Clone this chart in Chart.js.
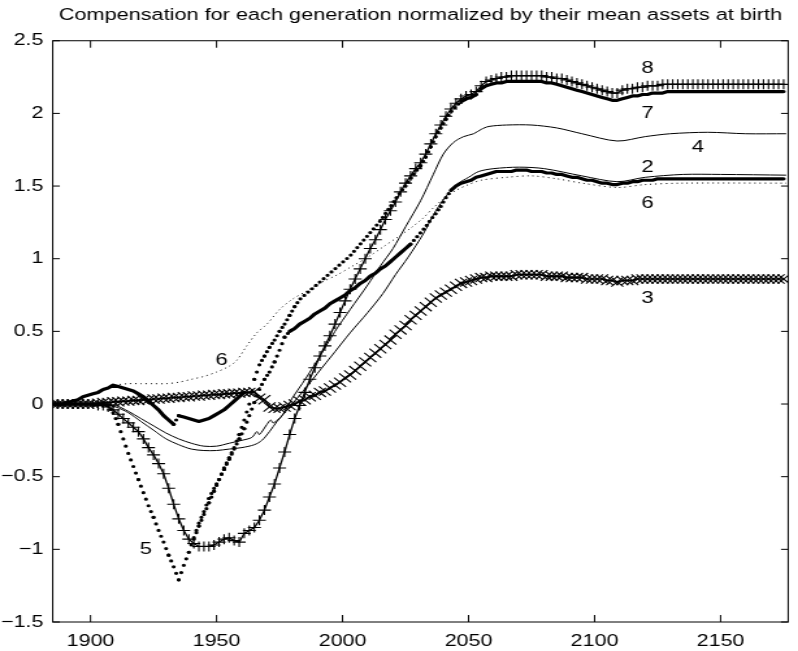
<!DOCTYPE html>
<html>
<head>
<meta charset="utf-8">
<title>Compensation for each generation</title>
<script src="https://cdn.jsdelivr.net/npm/chart.js@4.4.1/dist/chart.umd.min.js"></script>
<style>
    html, body { margin: 0; padding: 0; background: #fff; }
    /* the scanned figure is wider than tall glyphs suggest, so the whole plot is stretched sideways */
    #wrap { position: absolute; left: 0; top: 0; width: 614px; height: 651px; transform: scaleX(1.2997); transform-origin: 0 0; }
</style>
</head>
<body>
<div id="wrap"><canvas id="compChart"></canvas></div>
<script>
const titleText = 'Compensation for each generation normalized by their mean assets at birth';

const xTicks = [1900, 1950, 2000, 2050, 2100, 2150];
const yTicks = [-1.5, -1, -0.5, 0, 0.5, 1, 1.5, 2, 2.5];

// birth years of the marker series (every second generation)
const years = [
    1885, 1887, 1889, 1891, 1893, 1895, 1897, 1899, 1901, 1903,
    1905, 1907, 1909, 1911, 1913, 1915, 1917, 1919, 1921, 1923,
    1925, 1927, 1929, 1931, 1933, 1935, 1937, 1939, 1941, 1943,
    1945, 1947, 1949, 1951, 1953, 1955, 1957, 1959, 1961, 1963,
    1965, 1967, 1969, 1971, 1973, 1975, 1977, 1979, 1981, 1983,
    1985, 1987, 1989, 1991, 1993, 1995, 1997, 1999, 2001, 2003,
    2005, 2007, 2009, 2011, 2013, 2015, 2017, 2019, 2021, 2023,
    2025, 2027, 2029, 2031, 2033, 2035, 2037, 2039, 2041, 2043,
    2045, 2047, 2049, 2051, 2053, 2055, 2057, 2059, 2061, 2063,
    2065, 2067, 2069, 2071, 2073, 2075, 2077, 2079, 2081, 2083,
    2085, 2087, 2089, 2091, 2093, 2095, 2097, 2099, 2101, 2103,
    2105, 2107, 2109, 2111, 2113, 2115, 2117, 2119, 2121, 2123,
    2125, 2127, 2129, 2131, 2133, 2135, 2137, 2139, 2141, 2143,
    2145, 2147, 2149, 2151, 2153, 2155, 2157, 2159, 2161, 2163,
    2165, 2167, 2169, 2171, 2173, 2175
];

// case 8, '+' markers
const case8 = [
    0, 0, 0, 0, 0, 0, 0, 0, 0, -0.01,
    -0.01, -0.02, -0.04, -0.07, -0.10, -0.13, -0.16, -0.19, -0.24, -0.30,
    -0.35, -0.41, -0.48, -0.58, -0.69, -0.79, -0.87, -0.93, -0.96, -0.98,
    -0.98, -0.98, -0.97, -0.95, -0.93, -0.92, -0.94, -0.95, -0.89, -0.87,
    -0.85, -0.80, -0.73, -0.64, -0.55, -0.44, -0.33, -0.21, -0.10, -0.01,
    0.08, 0.17, 0.25, 0.33, 0.40, 0.47, 0.55, 0.63, 0.71, 0.79,
    0.86, 0.93, 1.00, 1.07, 1.13, 1.20, 1.27, 1.33, 1.39, 1.46,
    1.52, 1.57, 1.62, 1.66, 1.72, 1.79, 1.86, 1.92, 1.98, 2.03,
    2.07, 2.10, 2.12, 2.13, 2.15, 2.19, 2.22, 2.23, 2.24, 2.25,
    2.25, 2.26, 2.26, 2.26, 2.26, 2.26, 2.26, 2.26, 2.25, 2.25,
    2.24, 2.24, 2.23, 2.22, 2.21, 2.20, 2.19, 2.18, 2.17, 2.16,
    2.15, 2.14, 2.14, 2.16, 2.17, 2.17, 2.18, 2.18, 2.19, 2.19,
    2.19, 2.20, 2.20, 2.20, 2.20, 2.20, 2.20, 2.20, 2.20, 2.20,
    2.20, 2.20, 2.20, 2.20, 2.20, 2.20, 2.20, 2.20, 2.20, 2.20,
    2.20, 2.20, 2.20, 2.20, 2.20, 2.20
];

// case 7, heavy dots, visible from 1941 on
const case7Start = 1941;
const case7 = [
    -0.93, -0.84,
    -0.76, -0.68, -0.60, -0.52, -0.44, -0.37, -0.30, -0.21, -0.11, 0.00,
    0.17, 0.27, 0.33, 0.39, 0.44, 0.50, 0.55, 0.61, 0.67, 0.72,
    0.75, 0.78, 0.81, 0.84, 0.87, 0.90, 0.93, 0.96, 0.99, 1.02,
    1.06, 1.10, 1.14, 1.18, 1.22, 1.26, 1.31, 1.36, 1.41, 1.46,
    1.50, 1.55, 1.60, 1.64, 1.70, 1.77, 1.84, 1.90, 1.96, 2.01,
    2.05, 2.08, 2.10, 2.11, 2.13, 2.17, 2.19, 2.20, 2.21, 2.21,
    2.22, 2.22, 2.22, 2.22, 2.22, 2.22, 2.22, 2.22, 2.21, 2.21,
    2.20, 2.19, 2.18, 2.17, 2.16, 2.15, 2.14, 2.13, 2.12, 2.11,
    2.10, 2.09, 2.09, 2.10, 2.11, 2.12, 2.12, 2.13, 2.13, 2.14,
    2.14, 2.14, 2.15, 2.15, 2.15, 2.15, 2.15, 2.15, 2.15, 2.15,
    2.15, 2.15, 2.15, 2.15, 2.15, 2.15, 2.15, 2.15, 2.15, 2.15,
    2.15, 2.15, 2.15, 2.15, 2.15, 2.15
];

// case 5, heavy dots
const case5 = [
    0, 0, 0, 0, 0, 0, 0, 0, 0, 0,
    0, -0.01, -0.06, -0.14, -0.24, -0.34, -0.43, -0.52, -0.61, -0.70,
    -0.78, -0.87, -0.95, -1.04, -1.12, -1.21, -1.11, -1.02, -0.92, -0.82,
    -0.74, -0.65, -0.58, -0.52, -0.45, -0.38, -0.31, -0.24, -0.17, -0.08,
    0.01, 0.10, 0.17, 0.22, 0.29, 0.37, 0.46, 0.50, 0.52, 0.55,
    0.57, 0.59, 0.62, 0.64, 0.66, 0.69, 0.71, 0.73, 0.75, 0.78,
    0.80, 0.83, 0.85, 0.88, 0.90, 0.93, 0.95, 0.98, 1.01, 1.04,
    1.07, 1.10, 1.14, 1.18, 1.22, 1.27, 1.31, 1.36, 1.42, 1.47,
    1.50, 1.52, 1.53, 1.54, 1.56, 1.57, 1.58, 1.59, 1.60, 1.60,
    1.60, 1.60, 1.61, 1.61, 1.61, 1.60, 1.60, 1.60, 1.59, 1.59,
    1.58, 1.58, 1.57, 1.56, 1.56, 1.55, 1.54, 1.54, 1.53, 1.52,
    1.52, 1.51, 1.51, 1.52, 1.52, 1.53, 1.53, 1.54, 1.54, 1.54,
    1.55, 1.55, 1.55, 1.55, 1.55, 1.55, 1.55, 1.55, 1.55, 1.55,
    1.55, 1.55, 1.55, 1.55, 1.55, 1.55, 1.55, 1.55, 1.55, 1.55,
    1.55, 1.55, 1.55, 1.55, 1.55, 1.55
];

// heavy dots near zero for the oldest generations (ends 1961)
const case1 = [
    0, 0, 0, 0.01, 0.02, 0.03, 0.05, 0.06, 0.07, 0.08,
    0.10, 0.11, 0.13, 0.12, 0.11, 0.10, 0.09, 0.07, 0.05, 0.02,
    -0.01, -0.04, -0.08, -0.11, -0.14, -0.08, -0.09, -0.10, -0.11, -0.12,
    -0.11, -0.10, -0.08, -0.06, -0.04, -0.01, 0.02, 0.05, 0.08
];

// case 3, 'x' markers
const case3 = [
    0, 0, 0, 0, 0, 0, 0, 0, 0, 0.005,
    0.01, 0.01, 0.015, 0.015, 0.02, 0.02, 0.025, 0.025, 0.03, 0.03,
    0.035, 0.035, 0.04, 0.04, 0.045, 0.045, 0.05, 0.05, 0.055, 0.055,
    0.06, 0.06, 0.065, 0.065, 0.07, 0.07, 0.075, 0.075, 0.08, 0.08,
    0.085, 0.04, 0.03, -0.02, -0.03, -0.03, -0.02, -0.01, 0.00, 0.02,
    0.03, 0.05, 0.06, 0.08, 0.09, 0.11, 0.13, 0.15, 0.18, 0.20,
    0.23, 0.26, 0.29, 0.32, 0.35, 0.38, 0.41, 0.44, 0.48, 0.51,
    0.54, 0.58, 0.61, 0.64, 0.67, 0.70, 0.73, 0.75, 0.77, 0.79,
    0.81, 0.83, 0.84, 0.85, 0.86, 0.87, 0.87, 0.88, 0.88, 0.88,
    0.88, 0.88, 0.89, 0.89, 0.89, 0.89, 0.89, 0.89, 0.88, 0.88,
    0.88, 0.88, 0.87, 0.87, 0.87, 0.87, 0.86, 0.86, 0.86, 0.86,
    0.85, 0.85, 0.84, 0.85, 0.85, 0.85, 0.86, 0.86, 0.86, 0.86,
    0.86, 0.86, 0.86, 0.86, 0.86, 0.86, 0.86, 0.86, 0.86, 0.86,
    0.86, 0.86, 0.86, 0.86, 0.86, 0.86, 0.86, 0.86, 0.86, 0.86,
    0.86, 0.86, 0.86, 0.86, 0.86, 0.86
];

// case 4, thin solid line
const case4Years = [1885, 1905, 1910, 1915, 1920, 1925, 1930, 1935, 1940, 1945, 1950, 1955, 1960, 1964, 1966, 1967, 1970, 1971.5, 1972.5, 1976, 1980, 1984, 1990, 1997, 2003, 2010, 2015, 2020, 2025, 2031, 2036, 2040, 2044, 2048, 2052, 2055, 2058, 2065, 2075, 2085, 2095, 2109, 2120, 2130, 2145, 2160, 2176];
const case4 = [0, 0, -0.01, -0.05, -0.10, -0.15, -0.20, -0.24, -0.27, -0.29, -0.29, -0.27, -0.25, -0.23, -0.19, -0.21, -0.14, -0.11, -0.13, -0.08, 0.04, 0.14, 0.30, 0.50, 0.65, 0.82, 0.95, 1.07, 1.22, 1.40, 1.58, 1.72, 1.80, 1.84, 1.86, 1.89, 1.91, 1.92, 1.92, 1.90, 1.86, 1.81, 1.84, 1.86, 1.87, 1.86, 1.86];

// case 2, thin solid line
const case2Years = [1885, 1905, 1910, 1915, 1920, 1925, 1930, 1935, 1940, 1945, 1950, 1955, 1960, 1965, 1968, 1971, 1974, 1978, 1983, 1990, 1997, 2003, 2010, 2016, 2021, 2026, 2032, 2037, 2042, 2046, 2050, 2054, 2060, 2070, 2080, 2095, 2109, 2120, 2135, 2150, 2176];
const case2 = [0, 0, -0.02, -0.06, -0.12, -0.18, -0.24, -0.28, -0.31, -0.32, -0.32, -0.31, -0.30, -0.28, -0.25, -0.19, -0.12, -0.04, 0.06, 0.21, 0.36, 0.49, 0.63, 0.76, 0.89, 1.01, 1.17, 1.33, 1.45, 1.52, 1.56, 1.60, 1.62, 1.63, 1.62, 1.57, 1.53, 1.56, 1.58, 1.58, 1.575];

// case 6, thin dotted line
const case6Years = [1885, 1890, 1895, 1900, 1905, 1910, 1915, 1920, 1925, 1930, 1935, 1940, 1945, 1950, 1955, 1958, 1962, 1966, 1970, 1975, 1980, 1986, 1992, 1998, 2003, 2010, 2016, 2022, 2027, 2032, 2036, 2040, 2045, 2050, 2055, 2065, 2075, 2085, 2095, 2109, 2120, 2135, 2176];
const case6 = [0, 0, 0.03, 0.06, 0.10, 0.13, 0.14, 0.14, 0.14, 0.14, 0.15, 0.17, 0.19, 0.22, 0.26, 0.30, 0.40, 0.49, 0.55, 0.65, 0.72, 0.78, 0.84, 0.89, 0.94, 1.01, 1.08, 1.15, 1.21, 1.28, 1.35, 1.41, 1.47, 1.51, 1.54, 1.56, 1.57, 1.55, 1.52, 1.49, 1.51, 1.52, 1.52];

// curve numbers written on the plot
const labelText = ['8', '7', '4', '2', '6', '3', '6', '5'];
const labelYear = [2121, 2121, 2141, 2121, 2121, 2121, 1952, 1922];
const labelValue = [2.31, 2.00, 1.77, 1.63, 1.38, 0.73, 0.30, -1.0];

const FONT = '"Liberation Sans", Arial, Helvetica, sans-serif';

function pts(xs, ys) {
    return ys.map((v, i) => ({ x: xs[i], y: v }));
}

// '.' markers: where consecutive points are far apart they show as separate dots,
// where they crowd together they merge into a thick line
function beadDash(minStep) {
    return seg => {
        const a = seg.p0, b = seg.p1;
        const span = b.parsed.x - a.parsed.x;
        const step = Math.hypot(b.x - a.x, b.y - a.y) / span;
        return step > minStep ? [0, Math.max(step, 4.5)] : undefined;
    };
}

function heavyDots(data, minStep) {
    return {
        data,
        borderColor: '#000',
        borderWidth: 3.2,
        borderCapStyle: 'round',
        borderJoinStyle: 'round',
        pointRadius: 0,
        spanGaps: false,
        segment: { borderDash: beadDash(minStep) },
    };
}

const boxPlugin = {
    id: 'matlabBox',
    afterDatasetsDraw(chart) {
        const { ctx, chartArea: a, scales: { x, y } } = chart;
        ctx.save();
        ctx.strokeStyle = '#000';
        ctx.lineWidth = 1;
        ctx.strokeRect(a.left, a.top, a.right - a.left, a.bottom - a.top);
        ctx.beginPath();
        xTicks.forEach(v => {
            const px = x.getPixelForValue(v);
            ctx.moveTo(px, a.bottom); ctx.lineTo(px, a.bottom - 7);
            ctx.moveTo(px, a.top); ctx.lineTo(px, a.top + 7);
        });
        yTicks.forEach(v => {
            const py = y.getPixelForValue(v);
            ctx.moveTo(a.left, py); ctx.lineTo(a.left + 5.5, py);
            ctx.moveTo(a.right, py); ctx.lineTo(a.right - 5.5, py);
        });
        ctx.stroke();
        ctx.restore();
    }
};

const labelPlugin = {
    id: 'curveNumbers',
    afterDatasetsDraw(chart) {
        const { ctx, scales: { x, y } } = chart;
        ctx.save();
        ctx.font = '17px ' + FONT;
        ctx.fillStyle = '#000';
        ctx.textAlign = 'center';
        ctx.textBaseline = 'middle';
        labelText.forEach((t, i) => {
            ctx.fillText(t, x.getPixelForValue(labelYear[i]), y.getPixelForValue(labelValue[i]));
        });
        ctx.restore();
    }
};

document.addEventListener('DOMContentLoaded', () => {
    const ctx = document.getElementById('compChart').getContext('2d');
    Chart.defaults.color = '#000';

    new Chart(ctx, {
        type: 'line',
        data: {
            datasets: [
                {
                    label: '8',
                    data: pts(years, case8),
                    borderColor: '#000',
                    borderWidth: 1.3,
                    pointStyle: 'cross',
                    pointRadius: 5,
                    pointBorderWidth: 1.1,
                    pointBorderColor: '#000',
                },
                { label: '7', ...heavyDots(pts(years.slice(years.indexOf(case7Start)), case7), 2.75) },
                { label: '5', ...heavyDots(pts(years, case5), 3.3) },
                { label: '1', ...heavyDots(pts(years, case1), 3.6) },
                {
                    label: '3',
                    data: pts(years, case3),
                    borderColor: '#000',
                    borderWidth: 1.6,
                    pointStyle: 'crossRot',
                    pointRadius: 6.5,
                    pointBorderWidth: 1.1,
                    pointBorderColor: '#000',
                },
                {
                    label: '4',
                    data: pts(case4Years, case4),
                    borderColor: '#000',
                    borderWidth: 1,
                    pointRadius: 0,
                    tension: 0.3,
                },
                {
                    label: '2',
                    data: pts(case2Years, case2),
                    borderColor: '#000',
                    borderWidth: 1,
                    pointRadius: 0,
                    tension: 0.3,
                },
                {
                    label: '6',
                    data: pts(case6Years, case6),
                    borderColor: '#000',
                    borderWidth: 1,
                    borderDash: [1, 3],
                    pointRadius: 0,
                    tension: 0.3,
                },
            ]
        },
        options: {
            responsive: true,
            maintainAspectRatio: false,
            animation: false,
            layout: { padding: { left: 0, right: 3.1, top: 0, bottom: 0 } },
            plugins: {
                legend: { display: false },
                tooltip: { enabled: false },
                title: {
                    display: true,
                    text: titleText,
                    fullSize: false,
                    color: '#000',
                    font: { family: FONT, size: 16.7, weight: 'normal' },
                    padding: { top: 5.2, bottom: 15.5 },
                }
            },
            scales: {
                x: {
                    type: 'linear',
                    min: 1885,
                    max: 2176.8,
                    grid: { display: false, drawTicks: false },
                    border: { display: false },
                    afterBuildTicks: s => { s.ticks = xTicks.map(v => ({ value: v })); },
                    afterFit: s => { s.height = 29; },
                    ticks: {
                        color: '#000',
                        padding: 10,
                        maxRotation: 0,
                        autoSkip: false,
                        font: { family: FONT, size: 16.5 },
                        callback: v => String(v),
                    }
                },
                y: {
                    min: -1.5,
                    max: 2.5,
                    grid: { display: false, drawTicks: false },
                    border: { display: false },
                    afterBuildTicks: s => { s.ticks = yTicks.map(v => ({ value: v })); },
                    afterFit: s => { s.width = 40.55; },
                    ticks: {
                        color: '#000',
                        padding: 7.2,
                        autoSkip: false,
                        font: { family: FONT, size: 16.5 },
                        callback: v => (v < 0 ? '\u2212' + Math.abs(v) : String(v)),
                    }
                }
            }
        },
        plugins: [boxPlugin, labelPlugin]
    });
});
</script>
</body>
</html>
